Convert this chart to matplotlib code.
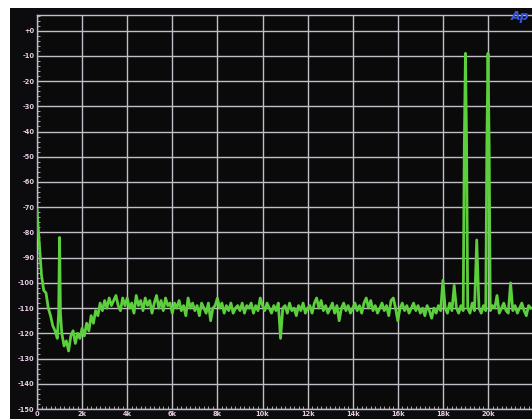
import numpy as np
import matplotlib
matplotlib.use("Agg")
import matplotlib.pyplot as plt
from matplotlib.patches import Rectangle
from matplotlib.ticker import MultipleLocator

# ---------------- data ----------------
# FFT bins every 0.1 kHz, 0.0 ... 21.9 kHz
bin_start_khz = 0.0
bin_step_khz = 0.1
levels_db = [
    -71, -84, -97, -103, -104, -110, -113, -117, -119, -122,      # 0-0.9k
    -82, -120, -125, -123, -127, -121, -119, -124, -120, -122,    # 1k
    -118, -121, -116, -119, -113, -116, -111, -113, -108, -111,   # 2k
    -107, -110, -106, -109, -107, -105, -109, -111, -106, -109,   # 3k
    -106, -110, -108, -112, -105, -109, -107, -111, -106, -109,   # 4k
    -107, -112, -108, -105, -110, -107, -111, -106, -109, -108,   # 5k
    -112, -108, -110, -107, -111, -109, -113, -106, -110, -108,   # 6k
    -111, -109, -113, -108, -110, -112, -108, -115, -110, -109,   # 7k
    -106, -110, -108, -112, -109, -111, -108, -112, -110, -109,   # 8k
    -111, -108, -112, -109, -110, -108, -112, -109, -111, -106,   # 9k
    -109, -111, -108, -110, -112, -109, -111, -108, -122, -110,   # 10k
    -109, -112, -108, -111, -110, -113, -109, -111, -108, -112,   # 11k
    -110, -109, -112, -108, -106, -110, -107, -111, -109, -112,   # 12k
    -110, -108, -112, -109, -115, -110, -108, -111, -109, -112,   # 13k
    -110, -108, -111, -109, -112, -108, -106, -110, -107, -111,   # 14k
    -109, -112, -110, -108, -111, -109, -113, -107, -106, -110,   # 15k
    -115, -110, -108, -111, -109, -112, -110, -108, -111, -109,   # 16k
    -112, -110, -113, -109, -111, -114, -110, -112, -109, -111,   # 17k
    -99, -110, -112, -108, -111, -101, -110, -112, -109, -111,    # 18k
    -9, -110, -112, -108, -111, -83, -110, -112, -109, -111,      # 19k
    -9, -111, -109, -110, -105, -112, -110, -108, -111, -112,     # 20k
    -100, -111, -109, -112, -110, -108, -111, -113, -109, -110,   # 21k
]
# extra points on the flanks of the tones (kHz, dB)
skirt_khz = [0.96, 1.04, 18.95, 19.05, 19.95, 20.05]
skirt_db = [-112, -112, -45, -45, -45, -45]

y_ticks = [0, -10, -20, -30, -40, -50, -60, -70, -80, -90, -100,
           -110, -120, -130, -140, -150]
y_tick_labels = ["+0", "-10", "-20", "-30", "-40", "-50", "-60", "-70",
                 "-80", "-90", "-100", "-110", "-120", "-130", "-140", "-150"]
x_ticks_khz = [0, 2, 4, 6, 8, 10, 12, 14, 16, 18, 20]
x_tick_labels = ["0", "2k", "4k", "6k", "8k", "10k", "12k", "14k", "16k",
                 "18k", "20k"]

# ---------------- build trace ----------------
bins = bin_start_khz + bin_step_khz * np.arange(len(levels_db))
f_all = np.concatenate([bins, np.array(skirt_khz)])
l_all = np.concatenate([np.array(levels_db, float), np.array(skirt_db, float)])
order = np.argsort(f_all, kind="stable")
f_all, l_all = f_all[order], l_all[order]

# ---------------- figure ----------------
W, H = 532, 419
fig = plt.figure(figsize=(W / 100, H / 100), dpi=100, facecolor="white")
fig.patches.append(Rectangle((10 / W, 0), 1 - 10 / W, (H - 8) / H,
                             transform=fig.transFigure, facecolor="#0c0c0e",
                             edgecolor="none", zorder=-5))

left = 37 / W
bottom = (H - 409) / H
top = (H - 15) / H
ax = fig.add_axes([left, bottom, 1 - left, top - bottom])
ax.set_zorder(2)
ax.set_facecolor("#0a0a0a")

grid_c = "#c2bec8"
ax.set_xlim(0, (W - 37) / 22.55)
ax.set_ylim(-150, 6.2)

ax.set_yticks(y_ticks)
ax.set_yticklabels(y_tick_labels)
ax.set_xticks(x_ticks_khz)
ax.set_xticklabels(x_tick_labels)
ax.yaxis.set_minor_locator(MultipleLocator(2))
ax.xaxis.set_minor_locator(MultipleLocator(0.2))

ax.grid(True, which="major", color=grid_c, linewidth=1.0)
ax.set_axisbelow(True)
ax.tick_params(which="both", direction="in", colors=grid_c,
               labelcolor="#e6cce2", labelsize=4.8)
ax.tick_params(which="major", length=0, pad=2)
ax.tick_params(which="minor", length=2.2, width=0.6)
ax.tick_params(axis="x", which="major", pad=1.5)
for lab in ax.get_xticklabels() + ax.get_yticklabels():
    lab.set_fontweight("bold")

for s in ["left", "top", "bottom"]:
    ax.spines[s].set_color(grid_c)
    ax.spines[s].set_linewidth(1.0)
ax.spines["right"].set_visible(False)

ax.plot(f_all, l_all, color="#5ccf3c", linewidth=2.0, solid_joinstyle="round",
        zorder=3)

fig.text(511 / W, 1 - 23 / H, "Ap", color="#3456e0", fontsize=9,
         fontstyle="italic", fontweight="bold", ha="left", va="bottom",
         zorder=5)

fig.savefig("out.png", dpi=100, facecolor=fig.get_facecolor())
